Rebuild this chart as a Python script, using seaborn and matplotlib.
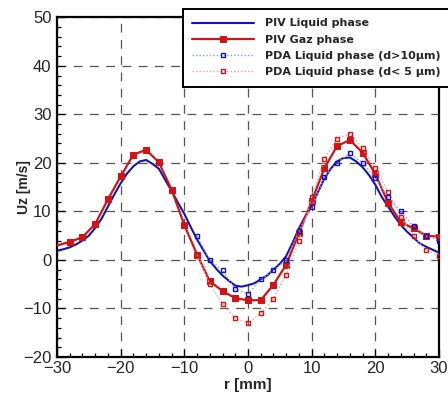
import matplotlib
matplotlib.use("Agg")
import matplotlib.pyplot as plt
import pandas as pd
import seaborn as sns
from matplotlib.ticker import MultipleLocator

# Radial positions [mm] and axial velocities Uz [m/s]
r_piv_liquid = list(range(-30, 31, 1))
uz_piv_liquid = [
    1.9, 2.2, 2.6, 3.2, 4.0, 5.0, 6.6, 8.5, 11.0, 13.5,
    15.8, 17.8, 19.3, 20.3, 20.6, 19.8, 18.8, 16.5, 14.2, 11.8,
    9.5, 6.8, 4.2, 2.0, -0.2, -1.8, -3.2, -4.3, -5.3, -5.5,
    -5.2, -4.8, -4.0, -3.2, -2.0, -0.8, 0.8, 3.5, 6.5, 9.0,
    11.2, 14.0, 16.8, 18.8, 20.3, 21.0, 21.1, 20.3, 19.1, 17.5,
    15.5, 13.0, 11.0, 9.0, 7.2, 5.8, 4.6, 3.4, 2.7, 2.1, 1.5,
]

r_piv_gas = list(range(-30, 31, 2))
uz_piv_gas = [
    3.0, 3.7, 4.7, 7.4, 12.5, 17.2, 21.7, 22.7, 20.1, 14.5,
    7.2, 1.1, -4.4, -6.4, -7.9, -8.3, -8.3, -5.1, -1.0, 5.5,
    12.1, 18.9, 23.5, 24.7, 22.1, 17.7, 11.8, 7.8, 6.5, 5.0, 4.8,
]

r_pda_large = list(range(-8, 31, 2))
uz_pda_large = [
    5.0, -0.1, -2.1, -6.0, -7.0, -4.0, -2.1, 0.0, 6.0, 10.9,
    17.1, 20.0, 22.0, 20.0, 16.9, 12.9, 10.0, 6.9, 4.9, 4.0,
]

r_pda_small = list(range(-8, 31, 2))
uz_pda_small = [
    1.0, -5.0, -9.0, -12.0, -13.0, -11.0, -8.0, -3.0, 4.0, 12.9,
    20.9, 25.0, 26.0, 23.0, 19.0, 14.0, 8.9, 4.9, 2.0, 0.9,
]

labels = [
    "PIV Liquid phase",
    "PIV Gaz phase",
    "PDA Liquid phase (d>10µm)",
    "PDA Liquid phase (d< 5 µm)",
]

BLUE = "#1414b4"
RED = "#d21414"

sns.set_style("white")
plt.rcParams["font.family"] = ["Liberation Sans", "DejaVu Sans"]

fig = plt.figure(figsize=(4.48, 3.99), dpi=100)
ax = fig.add_axes([57 / 448, 1 - 357 / 399, (439 - 57) / 448, (357 - 17.3) / 399])

liq = pd.DataFrame({"r": r_piv_liquid, "uz": uz_piv_liquid})
gas = pd.DataFrame({"r": r_piv_gas, "uz": uz_piv_gas})
big = pd.DataFrame({"r": r_pda_large, "uz": uz_pda_large})
small = pd.DataFrame({"r": r_pda_small, "uz": uz_pda_small})

sns.lineplot(data=liq, x="r", y="uz", ax=ax, color=BLUE, lw=1.5,
             label=labels[0], zorder=4, estimator=None, sort=False)
sns.lineplot(data=gas, x="r", y="uz", ax=ax, color=RED, lw=1.6,
             marker="s", markersize=4.5, markeredgecolor=RED, markerfacecolor=RED,
             markevery=slice(1, None), label=labels[1], zorder=5,
             estimator=None, sort=False)
sns.lineplot(data=big, x="r", y="uz", ax=ax, color="#9a9ae6", lw=1.0,
             linestyle=(0, (1, 1.5)), marker="s", markersize=3.5,
             markerfacecolor="none", markeredgecolor=BLUE, markeredgewidth=1.0,
             label=labels[2], zorder=7, estimator=None, sort=False)
sns.lineplot(data=small, x="r", y="uz", ax=ax, color="#f0a0a0", lw=1.0,
             linestyle=(0, (1, 1.5)), marker="s", markersize=3.5,
             markerfacecolor="none", markeredgecolor=RED, markeredgewidth=1.0,
             label=labels[3], zorder=6, estimator=None, sort=False)

ax.set_xlim(-30, 30)
ax.set_ylim(-20, 50)
ax.xaxis.set_major_locator(MultipleLocator(10))
ax.xaxis.set_minor_locator(MultipleLocator(2))
ax.yaxis.set_major_locator(MultipleLocator(10))
ax.yaxis.set_minor_locator(MultipleLocator(2))

ax.grid(True, which="major", color="#555555", lw=0.9, linestyle=(0, (7, 6)))
ax.set_axisbelow(True)

for side in ax.spines.values():
    side.set_linewidth(1.6)
    side.set_color("black")

ax.tick_params(which="both", direction="in", top=False, right=False,
               left=True, bottom=True, color="black", width=0.9)
ax.tick_params(which="major", length=5.5, labelsize=12, pad=4)
ax.tick_params(which="minor", length=3)
ax.tick_params(axis="x", which="major", pad=3)

ax.set_xlabel("r [mm]", fontsize=11, fontweight="bold", labelpad=1.5)
ax.set_ylabel("Uz [m/s]", fontsize=10, fontweight="bold", labelpad=-6)

ax.legend_.remove()
handles, _ = ax.get_legend_handles_labels()
leg = fig.legend(handles, labels, loc="upper left",
                 bbox_to_anchor=(183 / 448, 1 - 9 / 399),
                 bbox_transform=fig.transFigure,
                 prop={"family": "DejaVu Sans", "weight": "bold", "size": 8.0},
                 handlelength=5.5, handletextpad=1.0, labelspacing=0.56,
                 borderpad=0.85, borderaxespad=0, fancybox=False,
                 framealpha=1, edgecolor="black", facecolor="white",
                 numpoints=1)
leg.get_frame().set_linewidth(1.4)
leg.set_zorder(20)

fig.savefig("out.png", dpi=100)
